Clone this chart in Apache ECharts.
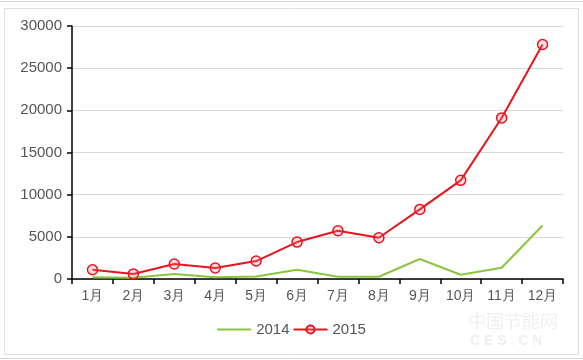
<!DOCTYPE html>
<html><head><meta charset="utf-8">
<script src="https://cdn.jsdelivr.net/npm/echarts@6/dist/echarts.min.js"></script>
<style>html,body{margin:0;padding:0;background:#fff}#c{width:583px;height:360px}</style>
</head><body><div id="c"></div>
<script>
var months = ['1月','2月','3月','4月','5月','6月','7月','8月','9月','10月','11月','12月'];
var s2014 = [200, 150, 600, 200, 300, 1100, 270, 270, 2370, 500, 1340, 6350];
var s2015 = [1100, 600, 1780, 1300, 2130, 4380, 5720, 4890, 8250, 11700, 19100, 27800];
var yTicks = [0, 5000, 10000, 15000, 20000, 25000, 30000];

var chart = echarts.init(document.getElementById('c'), null, {renderer:'canvas'});
var font = 'Arial, "Liberation Sans", sans-serif';
chart.setOption({
  animation: false,
  backgroundColor: '#fff',
  graphic: [
    {type:'line', shape:{x1:0,y1:1.5,x2:583,y2:1.5}, style:{stroke:'#d6d6d6',lineWidth:1}},
    {type:'rect', shape:{x:4.5,y:8.5,width:574,height:346}, style:{fill:'none',stroke:'#dedede',lineWidth:1}},
    {type:'line', shape:{x1:0,y1:358.5,x2:583,y2:358.5}, style:{stroke:'#d6d6d6',lineWidth:1}},
    {type:'text', left:468, top:312, style:{text:'中国节能网', fill:'rgba(200,215,200,0.35)', font:'18px "Noto Sans CJK SC"'}},
    {type:'text', left:470, top:334, style:{text:'C E S . C N', fill:'rgba(200,215,200,0.35)', font:'bold 14px Arial'}}
  ],
  grid: {left:72, right:20, top:26, bottom:81, containLabel:false},
  legend: {
    bottom: 18, left: 'center', itemGap: 3, itemWidth: 34, itemHeight: 10,
    textStyle: {color:'#555', fontSize:15, fontFamily:font},
    data: [{name:'2014', icon:'path://M0,4L34,4L34,6L0,6Z'}, {name:'2015'}]
  },
  xAxis: {
    type:'category', data: months, boundaryGap: true,
    axisLine: {lineStyle:{color:'#000', width:1.5}},
    axisTick: {show:true, length:5, interval:0, lineStyle:{color:'#000', width:1.5}},
    axisLabel: {color:'#555', fontSize:14, fontFamily:font, margin:10, interval:0}
  },
  yAxis: {
    type:'value', min: yTicks[0], max: yTicks[yTicks.length-1], interval: 5000,
    axisLine: {show:true, lineStyle:{color:'#000', width:1.5}},
    axisTick: {show:true, length:5, lineStyle:{color:'#000', width:1.5}},
    axisLabel: {color:'#555', fontSize:15, fontFamily:font, margin:10, formatter: function(v){return String(v);}},
    splitLine: {lineStyle:{color:'#d9d9d9', width:1}}
  },
  series: [
    {name:'2014', type:'line', data:s2014, symbol:'none', showSymbol:false,
     lineStyle:{color:'#8cc63f', width:2}, itemStyle:{color:'#8cc63f'}},
    {name:'2015', type:'line', data:s2015, symbol:'circle', symbolSize:10, showSymbol:true,
     lineStyle:{color:'#e8141e', width:2},
     itemStyle:{color:'rgba(240,120,130,0.25)', borderColor:'#e8141e', borderWidth:1.5}}
  ]
});
</script></body></html>
